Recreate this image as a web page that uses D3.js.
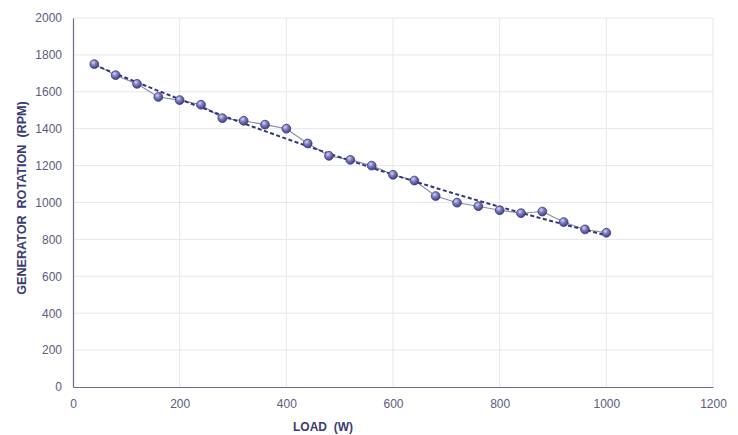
<!DOCTYPE html>
<html>
<head>
<meta charset="utf-8">
<script src="https://cdn.jsdelivr.net/npm/d3@7"></script>
<style>
  html, body { margin: 0; padding: 0; background: #ffffff; }
  svg { display: block; font-family: "Liberation Sans", Arial, sans-serif; }
</style>
</head>
<body>
<svg id="chart" width="738" height="435"></svg>
<script>
// Generator load test: rotation speed against electrical load
const loadW = [40, 80, 120, 160, 200, 240, 280, 320, 360, 400, 440, 480, 520,
               560, 600, 640, 680, 720, 760, 800, 840, 880, 920, 960, 1000];
const rpm = [1750, 1690, 1643, 1572, 1555, 1530, 1457, 1443, 1422, 1400, 1320, 1253, 1231,
             1200, 1150, 1119, 1035, 999, 980, 958, 942, 951, 894, 854, 836];
const xTicks = [0, 200, 400, 600, 800, 1000, 1200];
const yTicks = [0, 200, 400, 600, 800, 1000, 1200, 1400, 1600, 1800, 2000];

const svg = d3.select("#chart");
const m = { left: 73, right: 25, top: 18, bottom: 48 };
const W = 738, H = 435;

const x = d3.scaleLinear().domain([0, 1200]).range([m.left, W - m.right]);
const y = d3.scaleLinear().domain([0, 2000]).range([H - m.bottom, m.top]);

// marker shading
const defs = svg.append("defs");
const grad = defs.append("radialGradient").attr("id", "ball")
  .attr("cx", "38%").attr("cy", "32%").attr("r", "70%");
grad.append("stop").attr("offset", "0%").attr("stop-color", "#d4d4f2");
grad.append("stop").attr("offset", "45%").attr("stop-color", "#7a7abf");
grad.append("stop").attr("offset", "100%").attr("stop-color", "#3e3e85");

// grid
const grid = svg.append("g");
grid.selectAll("line.h").data(yTicks.filter(d => d > 0)).join("line")
  .attr("x1", x(0)).attr("x2", x(1200))
  .attr("y1", d => y(d)).attr("y2", d => y(d))
  .attr("stroke", "#e6e6f3").attr("stroke-width", 1);
grid.selectAll("line.v").data(xTicks.filter(d => d > 0)).join("line")
  .attr("y1", y(0)).attr("y2", y(2000))
  .attr("x1", d => x(d)).attr("x2", d => x(d))
  .attr("stroke", "#e6e6f3").attr("stroke-width", 1);

// axes
const axisColor = "#6c6c8c";
const tickColor = "#5c5c7e";
const yAxis = svg.append("g").attr("transform", `translate(${x(0)},0)`)
  .call(d3.axisLeft(y).tickValues(yTicks).tickSize(0).tickPadding(11).tickFormat(d3.format("d")));
const xAxis = svg.append("g").attr("transform", `translate(0,${y(0)})`)
  .call(d3.axisBottom(x).tickValues(xTicks).tickSize(0).tickPadding(12).tickFormat(d3.format("d")));
[xAxis, yAxis].forEach(a => {
  a.select(".domain").attr("stroke", axisColor).attr("stroke-width", 1.2);
  a.selectAll("text").attr("fill", tickColor).attr("font-size", 12)
    .attr("font-family", "'Liberation Sans Narrow', 'Liberation Sans', Arial, sans-serif");
});

// axis titles
svg.append("text")
  .attr("x", 323).attr("y", 431).attr("text-anchor", "middle")
  .attr("font-size", 12).attr("font-weight", "bold").attr("fill", "#3c3c74")
  .style("white-space", "pre")
  .text("LOAD  (W)");
svg.append("text")
  .attr("transform", `translate(26,${198}) rotate(-90)`).attr("text-anchor", "middle")
  .attr("font-size", 12.6).attr("font-weight", "bold").attr("fill", "#3c3c74")
  .style("white-space", "pre")
  .text("GENERATOR  ROTATION  (RPM)");

const pts = loadW.map((d, i) => ({ x: d, y: rpm[i] }));

// measured series, connected
svg.append("path").datum(pts)
  .attr("fill", "none").attr("stroke", "#8a8aa8").attr("stroke-width", 1.1)
  .attr("d", d3.line().x(d => x(d.x)).y(d => y(d.y)));

// second-order least-squares trend line
function quadFit(xs, ys) {
  let S = [[0,0,0],[0,0,0],[0,0,0]], T = [0,0,0];
  xs.forEach((xv, i) => {
    const p = [1, xv, xv * xv];
    for (let a = 0; a < 3; a++) {
      T[a] += p[a] * ys[i];
      for (let b = 0; b < 3; b++) S[a][b] += p[a] * p[b];
    }
  });
  // gaussian elimination
  const A = S.map((r, i) => r.concat([T[i]]));
  for (let c = 0; c < 3; c++) {
    for (let r = c + 1; r < 3; r++) {
      const f = A[r][c] / A[c][c];
      for (let k = c; k < 4; k++) A[r][k] -= f * A[c][k];
    }
  }
  const co = [0, 0, 0];
  for (let r = 2; r >= 0; r--) {
    let s = A[r][3];
    for (let k = r + 1; k < 3; k++) s -= A[r][k] * co[k];
    co[r] = s / A[r][r];
  }
  return co;
}
const c = quadFit(loadW, rpm);
const trendX = d3.range(loadW[0], loadW[loadW.length - 1] + 1, 10);
svg.append("path").datum(trendX)
  .attr("fill", "none").attr("stroke", "#33337f").attr("stroke-width", 2)
  .attr("stroke-dasharray", "4,2.5")
  .attr("d", d3.line().x(d => x(d)).y(d => y(c[0] + c[1] * d + c[2] * d * d)));

// markers
svg.append("g").selectAll("circle").data(pts).join("circle")
  .attr("cx", d => x(d.x)).attr("cy", d => y(d.y)).attr("r", 4.4)
  .attr("fill", "url(#ball)").attr("stroke", "#3a3a78").attr("stroke-width", 0.8);
</script>
</body>
</html>
